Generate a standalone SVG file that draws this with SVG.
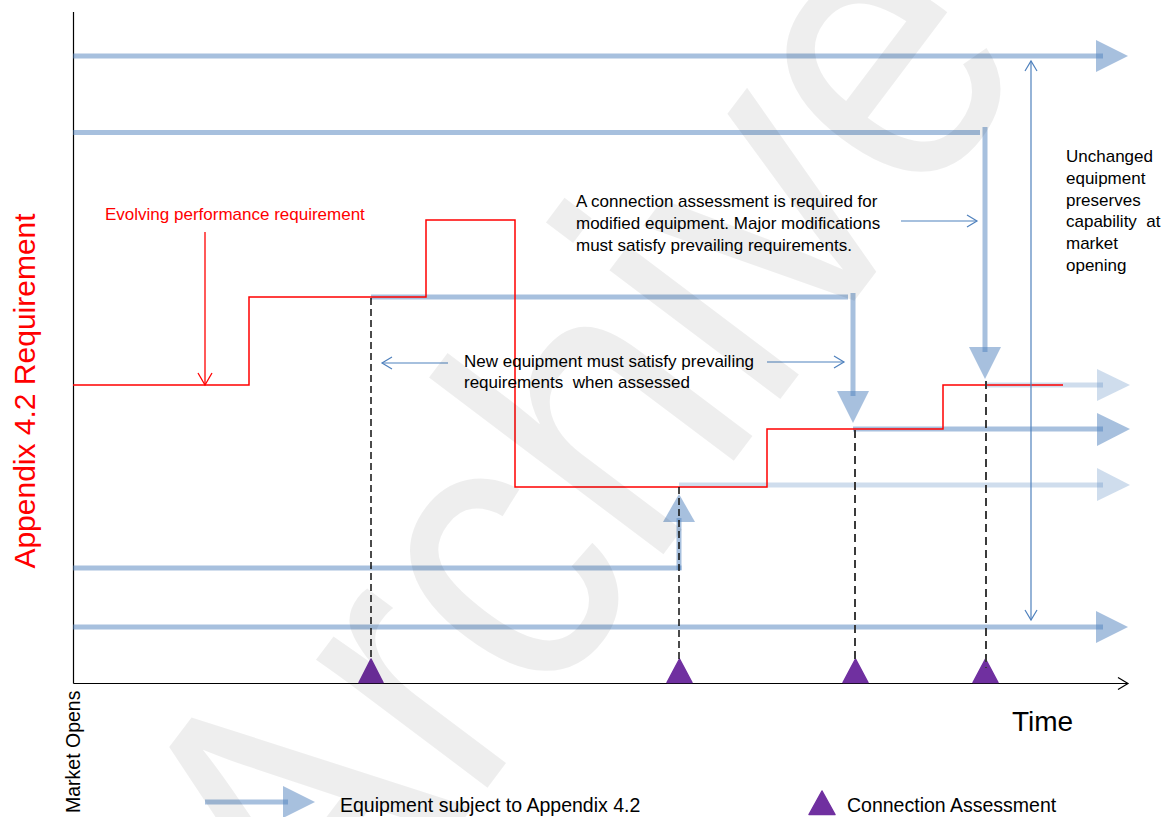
<svg xmlns="http://www.w3.org/2000/svg" width="1169" height="817" viewBox="0 0 1169 817">
<style>
  text { font-family: "Liberation Sans", Arial, sans-serif; }
  .lbl { font-size: 17px; fill: #000; }
  .red { fill: #ff0000; }
  .eq { fill: none; stroke: #4f81bd; stroke-opacity: .5; stroke-width: 5; }
  .eqh { fill: #4f81bd; fill-opacity: .5; }
  .eqf { fill: none; stroke: #4f81bd; stroke-opacity: .27; stroke-width: 5; }
  .eqfh { fill: #4f81bd; fill-opacity: .27; }
  .req { fill: none; stroke: #ff0000; stroke-width: 1.5; }
  .thin { fill: none; stroke: #4f81bd; stroke-width: 1.2; }
  .dash { fill: none; stroke: #111; stroke-width: 1.5; stroke-dasharray: 7 4; }
  .dash2 { fill: none; stroke: #3a3a3a; stroke-width: 2; stroke-dasharray: 8 5; }
  .ca { fill: #7030a0; stroke: #7030a0; stroke-width: 1.5; stroke-linejoin: round; }
  .axis { fill: none; stroke: #000; stroke-width: 1.2; }
</style>
<defs>
  <marker id="mBlue" markerUnits="userSpaceOnUse" markerWidth="14" markerHeight="14" viewBox="0 0 14 14" refX="12" refY="7" orient="auto-start-reverse">
    <path d="M2,1 L12,7 L2,13" fill="none" stroke="#4f81bd" stroke-width="1.2"/>
  </marker>
  <marker id="mRed" markerUnits="userSpaceOnUse" markerWidth="16" markerHeight="16" viewBox="0 0 16 16" refX="13" refY="8" orient="auto">
    <path d="M1,1 L13,8 L1,15" fill="none" stroke="#ff0000" stroke-width="1.3"/>
  </marker>
  <marker id="mAxis" markerUnits="userSpaceOnUse" markerWidth="14" markerHeight="14" viewBox="0 0 14 14" refX="12" refY="7" orient="auto">
    <path d="M2,1 L12,7 L2,13" fill="none" stroke="#000" stroke-width="1.2"/>
  </marker>
</defs>

<rect width="1169" height="817" fill="#fff"/>

<!-- axes -->
<g id="axes">
  <line class="axis" x1="73.5" y1="12" x2="73.5" y2="683.5"/>
  <line class="axis" x1="73.5" y1="683.5" x2="1128" y2="683.5" marker-end="url(#mAxis)"/>
  <text x="0" y="0" transform="translate(35,391) rotate(-90)" text-anchor="middle" font-size="30" class="red">Appendix 4.2 Requirement</text>
  <text x="0" y="0" transform="translate(80,813) rotate(-90)" font-size="19.5" fill="#000">Market Opens</text>
  <text x="1012" y="731" font-size="28" fill="#000">Time</text>
</g>

<!-- equipment lines -->
<g id="equipment">
  <g id="eq1">
    <line class="eq" x1="73" y1="56" x2="1103" y2="56"/>
    <polygon class="eqh" points="1096,40 1128,56 1096,72"/>
  </g>
  <g id="eq2">
    <line class="eq" x1="73" y1="132.5" x2="980" y2="132.5"/>
    <line class="eq" x1="985" y1="127" x2="985" y2="352"/>
    <polygon class="eqh" points="969,347 1001,347 985,379"/>
    <line class="eqf" x1="985" y1="385" x2="1103" y2="385"/>
    <polygon class="eqfh" points="1097,369 1130,385 1097,401"/>
  </g>
  <g id="eq3">
    <line class="eq" x1="371" y1="297" x2="848" y2="297"/>
    <line class="eq" x1="853" y1="293" x2="853" y2="396"/>
    <polygon class="eqh" points="837,391 869,391 853,423"/>
    <line class="eq" x1="853" y1="429" x2="1103" y2="429"/>
    <polygon class="eqh" points="1097,413 1130,429 1097,446"/>
  </g>
  <g id="eq4">
    <line class="eq" x1="73" y1="568" x2="681.5" y2="568"/>
    <line class="eq" x1="679" y1="570" x2="679" y2="518"/>
    <polygon class="eqh" points="663,522 695,522 679,494"/>
    <line class="eqf" x1="679" y1="485" x2="1103" y2="485"/>
    <polygon class="eqfh" points="1097,468 1130,485 1097,501"/>
  </g>
  <g id="eq5">
    <line class="eq" x1="73" y1="627" x2="1103" y2="627"/>
    <polygon class="eqh" points="1096,611 1128,627 1096,643"/>
  </g>
</g>

<!-- evolving requirement -->
<g id="requirement">
  <polyline class="req" points="73,385 249,385 249,297 426,297 426,220 515,220 515,487 767,487 767,429 943,429 943,385 1063,385"/>
  <text x="105" y="220" class="lbl red">Evolving performance requirement</text>
</g>

<!-- connectors / annotation arrows -->
<g id="connectors">
  <line x1="205" y1="232" x2="205" y2="385" fill="none" stroke="#ff0000" stroke-width="1.3" marker-end="url(#mRed)"/>
  <line class="thin" x1="448" y1="363" x2="382" y2="363" marker-end="url(#mBlue)"/>
  <line class="thin" x1="767" y1="362" x2="844" y2="362" marker-end="url(#mBlue)"/>
  <line class="thin" x1="901" y1="221" x2="977" y2="221" marker-end="url(#mBlue)"/>
  <line class="thin" x1="1031" y1="61" x2="1031" y2="620" marker-start="url(#mBlue)" marker-end="url(#mBlue)"/>
</g>

<!-- annotations -->
<g id="note-modified">
  <text x="576" y="207" class="lbl">A connection assessment is required for</text>
  <text x="576" y="229" class="lbl">modified equipment. Major modifications</text>
  <text x="576" y="251" class="lbl">must satisfy prevailing requirements.</text>
</g>
<g id="note-new">
  <text x="464" y="367" class="lbl">New equipment must satisfy prevailing</text>
  <text x="464" y="388" class="lbl" xml:space="preserve">requirements  when assessed</text>
</g>
<g id="note-unchanged">
  <text x="1066" y="162" class="lbl">Unchanged</text>
  <text x="1066" y="183.8" class="lbl">equipment</text>
  <text x="1066" y="205.6" class="lbl">preserves</text>
  <text x="1066" y="227.4" class="lbl" xml:space="preserve">capability  at</text>
  <text x="1066" y="249.2" class="lbl">market</text>
  <text x="1066" y="271" class="lbl">opening</text>
</g>

<!-- connection assessments -->
<g id="assessments">
  <polygon class="ca" points="359,682.5 371,659 383,682.5"/>
  <polygon class="ca" points="667,682.5 679.5,659 692,682.5"/>
  <polygon class="ca" points="843,682.5 855.5,659 868,682.5"/>
  <polygon class="ca" points="973,682.5 985.5,659 998,682.5"/>
  <line class="dash" x1="371" y1="298" x2="371" y2="660"/>
  <line class="dash" x1="679" y1="487" x2="679" y2="660"/>
  <line class="dash2" x1="855" y1="430" x2="855" y2="660"/>
  <line class="dash2" x1="986" y1="381" x2="986" y2="668"/>
</g>

<!-- legend -->
<g id="legend">
  <line class="eq" x1="205" y1="802" x2="288" y2="802"/>
  <polygon class="eqh" points="283,786 315,802 283,818"/>
  <text x="340" y="812" font-size="19.5" fill="#000">Equipment subject to Appendix 4.2</text>
  <polygon class="ca" points="809,814.5 822,791 835,814.5"/>
  <text x="847" y="812" font-size="19.5" fill="#000">Connection Assessment</text>
</g>

<!-- watermark -->
<text id="watermark" x="0" y="0" transform="translate(332,994) rotate(-53)" font-size="405" textLength="1170" lengthAdjust="spacingAndGlyphs" fill="#000" fill-opacity="0.065">Archive</text>
</svg>
